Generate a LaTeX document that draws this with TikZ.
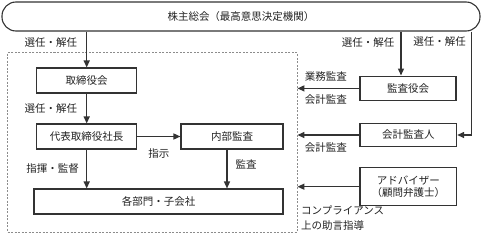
\documentclass[tikz,border=0pt]{standalone}
\usepackage{fontspec}
\setmainfont{Noto Sans CJK JP}
\usetikzlibrary{positioning, arrows.meta, calc}
\definecolor{LineA}{HTML}{333333}
\definecolor{GrayA}{HTML}{8C8C8C}
\definecolor{TextA}{HTML}{222222}
\tikzset{
  box/.style={draw=LineA, line width=1.1pt, align=center, text=TextA,
              font=\fontsize{10.5}{12}\selectfont, inner sep=2pt},
  gmbox/.style={box, rounded corners=14pt, minimum width=478pt,
              minimum height=29pt},
  sbox/.style={box, minimum width=100pt, minimum height=25pt},
  grp/.style={draw=GrayA, line width=0.9pt, dash pattern=on 2pt off 1.5pt,
              minimum width=289.5pt, minimum height=179.5pt},
  arr/.style={-{Triangle[length=7pt,width=6pt]}, line width=1.4pt, draw=LineA},
  lbl/.style={font=\fontsize{10.5}{15}\selectfont, text=TextA, inner sep=1pt},
}

\begin{document}
\begin{tikzpicture}[x=1pt, y=1pt]
  \useasboundingbox (0,0) rectangle (483,-236);

  % ---- shareholders meeting (top) ----
  \node[gmbox] (gm) at (241,-16.5) {株主総会（最高意思決定機関）};

  % ---- inside the company (dashed frame) ----
  \node[grp] (grp) at (152.25,-142.25) {};
  \node[sbox] (bod)   at (86.7,-80.5)  {取締役会};
  \node[sbox] (ceo)   at (86.7,-136.5) {代表取締役社長};
  \node[sbox, minimum width=102pt] (audit) at (232,-136.5) {内部監査};
  \node[sbox, minimum width=249pt] (div)   at (158.5,-201.5) {各部門・子会社};

  \draw[arr] (gm.south -| bod.north) -- node[lbl,left=8pt,pos=.3]{選任・解任} (bod.north);
  \draw[arr] (bod) -- node[lbl,left=8pt]{選任・解任} (ceo);
  \draw[arr] (ceo) -- node[lbl,below=10pt]{指示} (audit);
  \draw[arr] (ceo.south) -- node[lbl,left=6pt]{指揮・監督} (ceo.south |- div.north);
  \draw[arr] ([xshift=-5pt]audit.south) -- node[lbl,right=7pt,pos=.37]{監査}
       ([xshift=-5pt]audit.south |- div.north);

  % ---- outside: auditors and adviser ----
  \node[box, minimum width=96pt, minimum height=24.7pt] (kansa) at (408,-88.4) {監査役会};
  \node[box, minimum width=96.7pt, minimum height=23.4pt] (ca) at (408.3,-135) {会計監査人};
  \node[box, minimum width=96.7pt, minimum height=38pt] (adv) at (408.3,-186.7)
       {アドバイザー\\（顧問弁護士）};
  \coordinate (gmr) at ([xshift=-9pt]gm.south east);

  \draw[arr] ([xshift=-7pt]kansa.north |- gm.south) -- node[lbl,left=5pt,pos=.24]{選任・解任}
       ([xshift=-7pt]kansa.north);
  \draw[arr] (gmr) |- node[lbl,left=4pt,pos=.05]{選任・解任} (ca.east);

  \draw[arr] (kansa.west) -- node[lbl,above=5pt,pos=.54]{業務監査}
       node[lbl,below=5pt,pos=.54]{会計監査} (kansa.west -| grp.east);
  \draw[arr] (ca.west) -- node[lbl,below=6pt,pos=.54]{会計監査} (ca.west -| grp.east);
  \draw[arr] (adv.west) -- node[lbl,anchor=north west,pos=1,xshift=2pt,yshift=-17.5pt,
       align=left]{コンプライアンス\\上の助言指導} (adv.west -| grp.east);
\end{tikzpicture}
\end{document}
